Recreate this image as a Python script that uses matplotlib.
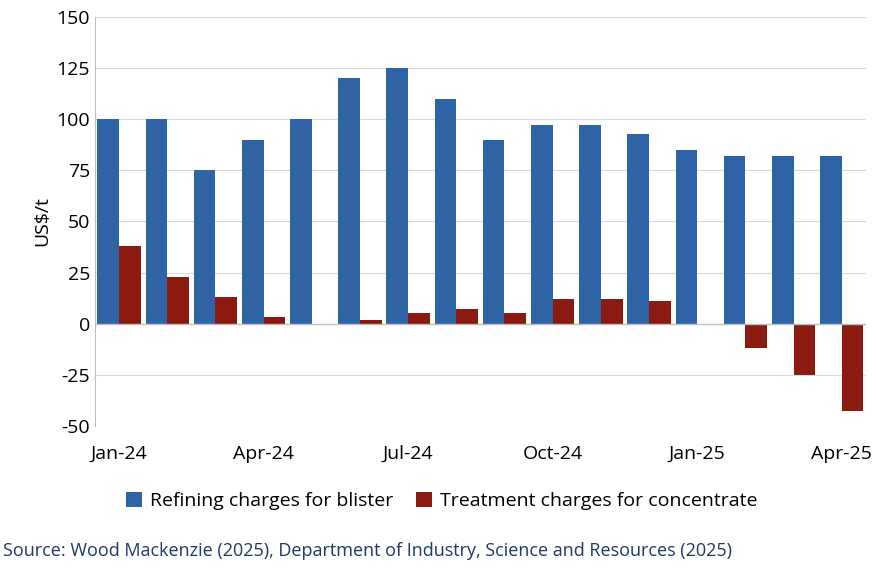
import numpy as np
import matplotlib
matplotlib.use("Agg")
import matplotlib.pyplot as plt

plt.rcParams["font.family"] = ["Open Sans", "DejaVu Sans"]
plt.rcParams["axes.unicode_minus"] = False

months = ["Jan-24", "Feb-24", "Mar-24", "Apr-24", "May-24", "Jun-24", "Jul-24", "Aug-24",
          "Sep-24", "Oct-24", "Nov-24", "Dec-24", "Jan-25", "Feb-25", "Mar-25", "Apr-25"]
refining = [100, 100, 75, 90, 100, 120, 125, 110, 90, 97, 97, 93, 85, 82, 82, 82]
treatment = [38, 23, 13, 3, 0, 2, 5, 7, 5, 12, 12, 11, 0, -12, -25, -43]

# ── Chart ─────────────────────────────────────────────────────────────────────
fig = plt.figure(figsize=(8.79, 5.73), dpi=100)
ax = fig.add_axes([0.108, 0.257, 0.877, 0.713])

x = np.arange(len(months))
w = 0.45
ax.bar(x - w / 2, refining, w, color="#2E64A6", label="Refining charges for blister")
ax.bar(x + w / 2, treatment, w, color="#8B1A10", label="Treatment charges for concentrate")
ax.axhline(0, color="#BFBFBF", lw=1)

ax.set_xlim(-0.5, len(months) - 0.5)
ax.set_ylim(-50, 150)
ax.set_yticks(range(-50, 151, 25))
ax.yaxis.grid(True, color="#D9D9D9", lw=0.8)
ax.set_axisbelow(True)
ax.set_xticks(x[::3])
ax.set_xticklabels(months[::3])
ax.tick_params(axis="both", labelsize=14, length=0)
ax.tick_params(axis="x", pad=14)
ax.set_ylabel("US$/t", fontsize=14)
for s in ["top", "right", "bottom"]:
    ax.spines[s].set_visible(False)
ax.spines["left"].set_color("#BFBFBF")

ax.legend(loc="upper center", bbox_to_anchor=(0.45, -0.12), ncol=2, frameon=False,
          fontsize=14, handlelength=0.8, handleheight=0.8, columnspacing=1.2, handletextpad=0.4)
fig.text(0.003, 0.03, "Source: Wood Mackenzie (2025), Department of Industry, Science and Resources (2025)",
         fontsize=13, color="#1F3864")

fig.savefig("out.png", dpi=100)
plt.close(fig)
